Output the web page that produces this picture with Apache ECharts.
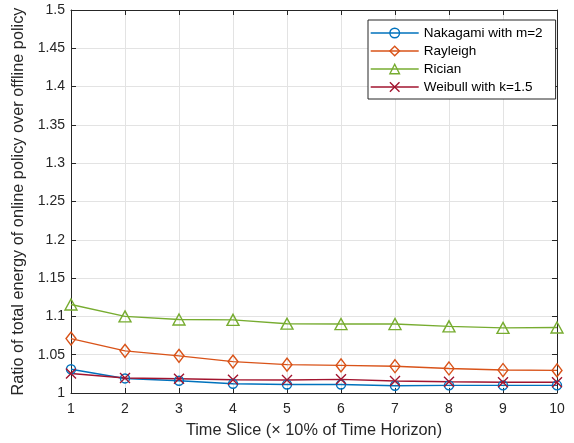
<!DOCTYPE html>
<html>
<head>
<meta charset="utf-8">
<script src="https://cdn.jsdelivr.net/npm/echarts@6/dist/echarts.min.js"></script>
<style>html,body{margin:0;padding:0;background:#fff;}#c{width:574px;height:443px;}</style>
</head>
<body>
<div id="c"></div>
<script>
const timeSlices = [1,2,3,4,5,6,7,8,9,10];
const nakagami = [1.031,1.019,1.016,1.012,1.011,1.011,1.0095,1.010,1.010,1.010];
const rayleigh = [1.071,1.055,1.0485,1.041,1.037,1.036,1.035,1.032,1.030,1.0295];
const rician = [1.1155,1.100,1.096,1.0955,1.0905,1.090,1.090,1.087,1.085,1.0855];
const weibull = [1.0255,1.0195,1.0186,1.0173,1.017,1.0178,1.0156,1.0147,1.014,1.014];
const seriesNames = ['Nakagami with m=2','Rayleigh','Rician','Weibull with k=1.5'];
const colors = ['#0072BD','#D95319','#77AC30','#A2142F'];
const symbols = ['circle','diamond','triangle','path://M0,0L10,10M10,0L0,10'];
const symbolSizes = [9,[10,13],[12,11],10];
const dataSets = [nakagami, rayleigh, rician, weibull];

const font = 'Liberation Sans, Arial, Helvetica, sans-serif';
const chart = echarts.init(document.getElementById('c'), null, {renderer:'canvas'});
const axisCol = '#262626';
const gridCol = '#e3e3e3';

const series = dataSets.map((d,i)=>({
  name: seriesNames[i],
  type: 'line',
  data: timeSlices.map((x,j)=>[x,d[j]]),
  symbol: symbols[i],
  symbolSize: symbolSizes[i],
  showAllSymbol: true,
  lineStyle: {color: colors[i], width: 1.4},
  itemStyle: {color: 'rgba(255,255,255,0)', borderColor: colors[i], borderWidth: 1.4},
  emphasis: {disabled: true},
  z: 3
}));

chart.setOption({
  animation: false,
  color: colors,
  textStyle: {fontFamily: font},
  grid: {left: 71, right: 17, top: 10, bottom: 50, containLabel: false, outerBoundsMode: 'none'},
  legend: {
    orient: 'vertical',
    left: 368, top: 20,
    itemWidth: 48, itemHeight: 12, itemGap: 4,
    backgroundColor: '#fff',
    borderColor: '#262626', borderWidth: 1,
    padding: [6, 13, 5, 2],
    textStyle: {fontFamily: font, fontSize: 13.5, color: '#000'},
    data: seriesNames.map((n,i)=>({name:n, itemStyle:{color:'rgba(255,255,255,0)', borderColor: colors[i], borderWidth:1.4}, lineStyle:{color: colors[i], width:1.4}}))
  },
  xAxis: [{
    type: 'value', min: 1, max: 10, interval: 1,
    name: 'Time Slice (\u00d7 10% of Time Horizon)',
    nameLocation: 'middle', nameGap: 30,
    nameTextStyle: {fontFamily: font, fontSize: 16.3, color: '#262626'},
    axisLine: {show: true, onZero: false, lineStyle: {color: axisCol, width: 1}},
    axisTick: {show: true, inside: true, length: 5, lineStyle: {color: axisCol}},
    axisLabel: {fontFamily: font, fontSize: 14, color: '#262626', margin: 9},
    splitLine: {show: true, lineStyle: {color: gridCol, width: 1}}
  },{
    type: 'value', min: 1, max: 10, interval: 1, position: 'top',
    axisLine: {show: true, onZero: false, lineStyle: {color: axisCol, width: 1}},
    axisTick: {show: true, inside: true, length: 5, lineStyle: {color: axisCol}},
    axisLabel: {show: false}, splitLine: {show: false}
  }],
  yAxis: [{
    type: 'value', min: 1, max: 1.5, interval: 0.05,
    name: 'Ratio of total energy of online policy over offline policy',
    nameLocation: 'middle', nameGap: 30, nameRotate: 90,
    nameTextStyle: {fontFamily: font, fontSize: 16.3, color: '#262626'},
    axisLine: {show: true, onZero: false, lineStyle: {color: axisCol, width: 1}},
    axisTick: {show: true, inside: true, length: 5, lineStyle: {color: axisCol}},
    axisLabel: {fontFamily: font, fontSize: 14, color: '#262626', margin: 6,
      formatter: v => String(parseFloat(v.toFixed(2)))},
    splitLine: {show: true, lineStyle: {color: gridCol, width: 1}}
  },{
    type: 'value', min: 1, max: 1.5, interval: 0.05, position: 'right',
    axisLine: {show: true, onZero: false, lineStyle: {color: axisCol, width: 1}},
    axisTick: {show: true, inside: true, length: 5, lineStyle: {color: axisCol}},
    axisLabel: {show: false}, splitLine: {show: false}
  }],
  series: series
});
</script>
</body>
</html>
